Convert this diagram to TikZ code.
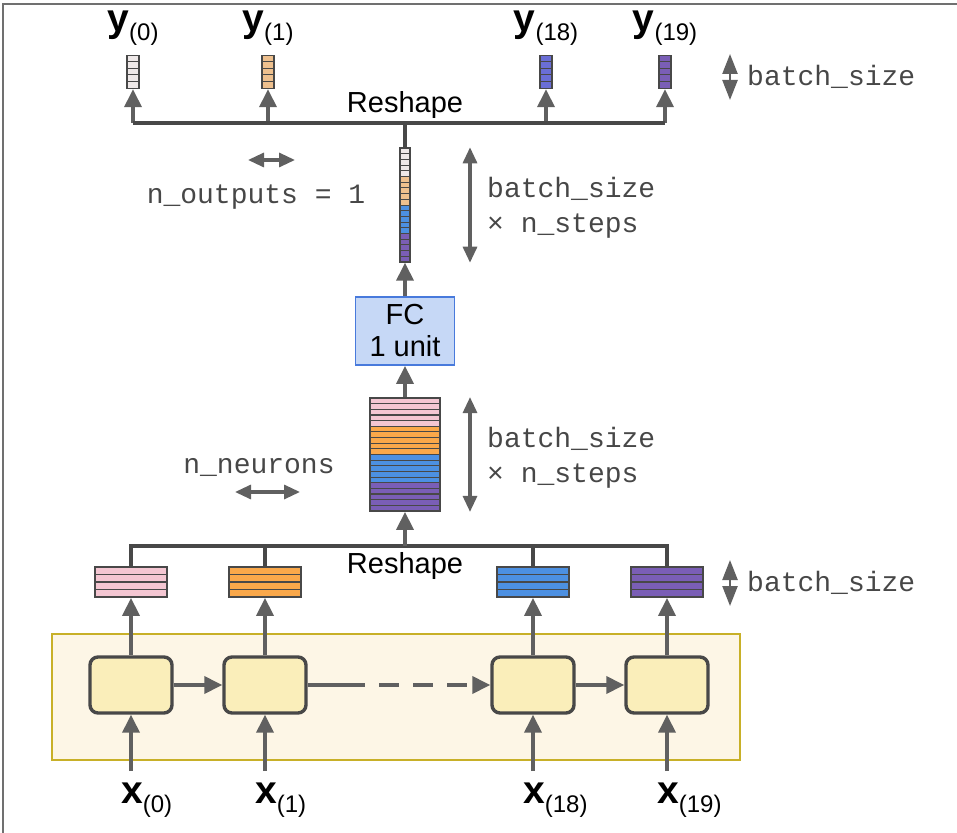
\documentclass[tikz,border=0pt]{standalone}
\usepackage{fontspec}
\setsansfont{Liberation Sans}
\setmonofont{Liberation Mono}
\usetikzlibrary{arrows.meta}
\definecolor{rnnline}{RGB}{72,72,72}
\definecolor{rnnarrow}{RGB}{96,96,96}
\definecolor{rnnframe}{RGB}{112,112,112}
\definecolor{vpink}{RGB}{244,198,210}
\definecolor{vorange}{RGB}{250,168,74}
\definecolor{vblue}{RGB}{76,144,226}
\definecolor{vpurple}{RGB}{122,94,182}
\definecolor{vpale}{RGB}{238,232,232}
\definecolor{vtan}{RGB}{238,192,142}
\definecolor{vindigo}{RGB}{106,110,214}
\definecolor{fcfill}{RGB}{198,216,246}
\definecolor{fcdraw}{RGB}{72,122,220}
\definecolor{cellfill}{RGB}{250,238,186}
\definecolor{layerfill}{RGB}{253,246,230}
\definecolor{layerdraw}{RGB}{200,176,40}
\newcommand{\seqlbl}[2]{\textbf{\fontsize{19.5}{19.5}\selectfont #1}\raisebox{-4.5pt}{\fontsize{12}{12}\selectfont(#2)}}

\begin{document}
\begin{tikzpicture}[x=0.5pt,y=-0.5pt,line width=1.2pt,
  wire/.style={draw=rnnline,line width=1.6pt},
  arr/.style={draw=rnnarrow,line width=1.8pt,-{Triangle[length=9pt,width=8.5pt]}},
  dbl/.style={draw=rnnarrow,line width=1.6pt,{Triangle[length=8pt,width=7pt]}-{Triangle[length=8pt,width=7pt]}},
  dblsmall/.style={draw=rnnarrow,line width=1.2pt,{Triangle[length=10pt,width=7.5pt]}-{Triangle[length=10pt,width=7.5pt]}},
  vec/.style={draw=rnnline,line width=0.7pt,minimum width=6pt,minimum height=16.5pt,inner sep=0pt},
  mat/.style={draw=rnnline,line width=0.9pt,minimum width=36pt,minimum height=15pt,inner sep=0pt},
  rowrule/.style={rnnline,line width=0.6pt},
  cell/.style={draw=rnnline,line width=1.7pt,fill=cellfill,rounded corners=4pt,minimum width=41pt,minimum height=28pt},
  seq/.style={font=\sffamily,inner sep=0pt},
  code/.style={font=\ttfamily\fontsize{14}{17.5}\selectfont,text=black!72,inner sep=0pt,align=left},
  rs/.style={font=\sffamily\fontsize{14.5}{16}\selectfont,inner sep=0pt}]
  \useasboundingbox (0,0) rectangle (957,833);
  \draw[rnnframe,line width=1pt] (3,833) -- (3,4) -- (957,4);

  % unrolled RNN layer
  \node[draw=layerdraw,fill=layerfill,line width=0.8pt,minimum width=344pt,minimum height=63pt,inner sep=0pt] (layer) at (396,697) {};
  \foreach \n/\x in {0/131,1/265,18/533,19/667} {
    \node[cell] (c\n) at (\x,685) {};
    \node[seq,anchor=base west] (x\n) at (\x-11,803) {\seqlbl{x}{\n}};
    \draw[arr,shorten <=5pt] (c\n.south |- x\n.north) -- (c\n.south);
  }
  \coordinate (dash) at (345,685);
  \draw[arr] (c0) -- (c1);
  \draw[wire,line width=1.8pt,draw=rnnarrow] (c1.east) -- (dash);
  \draw[arr,dash pattern=on 10pt off 7pt] (dash) -- (c18.west);
  \draw[arr] (c18) -- (c19);

  % outputs per time step
  \foreach \n/\x/\c in {0/131/vpink,1/265/vorange,18/533/vblue,19/667/vpurple} {
    \node[mat,fill=\c] (m\n) at (\x,582) {};
    \foreach \k in {1,2,3} \draw[rowrule] (\x-36,567+\k*7.5) -- (\x+36,567+\k*7.5);
    \draw[arr] (c\n) -- (m\n);
  }
  \node[code,anchor=west] (bsz2) at (746,583) {batch\_size};
  \draw[dblsmall] ([xshift=-8pt,yshift=11.5pt]bsz2.west) -- ([xshift=-8pt,yshift=-11.5pt]bsz2.west);

  \coordinate (rbot) at (405,546);
  \draw[wire] (m0.north) |- (rbot) -| (m19.north);
  \draw[wire] (m1.north) -- (m1.north |- rbot);
  \draw[wire] (m18.north) -- (m18.north |- rbot);
  \node[rs,anchor=base] (reshape2) at (405,573) {Reshape};

  % stacked outputs
  \foreach \c [count=\g from 0] in {vpink,vorange,vblue,vpurple}
    \fill[\c] (370,398+\g*28.25) rectangle (440,426.25+\g*28.25);
  \foreach \k in {1,...,19} \draw[rowrule] (370,398+\k*5.65) -- (440,398+\k*5.65);
  \node[mat,minimum width=35pt,minimum height=56.5pt] (bm) at (405,454.5) {};
  \draw[arr] (rbot) -- (bm.south);
  \draw[dbl] ([xshift=32.5pt]bm.north) -- ([xshift=32.5pt]bm.south);
  \node[code,anchor=west] (bst2) at (486,458) {batch\_size\\× n\_steps};
  \node[code] (nneu) at (259,467) {n\_neurons};
  \draw[dbl] ([xshift=-12pt,yshift=-12.5pt]nneu.center) -- ([xshift=20.5pt,yshift=-12.5pt]nneu.center);

  % dense layer
  \node[draw=fcdraw,fill=fcfill,line width=0.9pt,minimum width=49.5pt,minimum height=34pt,inner sep=0pt,
        align=center,font=\sffamily\fontsize{14.5}{16}\selectfont] (fc) at (405,331) {FC\\1 unit};
  \draw[arr] (bm) -- (fc);

  \foreach \c [count=\g from 0] in {vpale,vtan,vblue,vpurple}
    \foreach \k in {0,...,4}
      \fill[\c] (400,148+\g*28.5+\k*5.7) rectangle (410,153.7+\g*28.5+\k*5.7);
  \foreach \k in {1,...,19} \draw[rowrule,line width=0.4pt] (400,148+\k*5.7) -- (410,148+\k*5.7);
  \node[vec,minimum width=5pt,minimum height=57pt] (lv) at (405,205) {};
  \draw[arr] (fc) -- (lv);
  \draw[dbl] ([xshift=32.5pt]lv.north) -- ([xshift=32.5pt]lv.south);
  \node[code,anchor=west] (bst1) at (486,207.5) {batch\_size\\× n\_steps};
  \node[code] (nout) at (256,197) {n\_outputs = 1};
  \draw[dbl] ([xshift=-4pt,yshift=18.5pt]nout.center) -- ([xshift=19.5pt,yshift=18.5pt]nout.center);

  % reshaped outputs
  \coordinate (rtop) at (405,123);
  \foreach \n/\x/\c in {0/133/vpale,1/268/vtan,18/546/vindigo,19/665/vpurple} {
    \node[vec,fill=\c] (y\n) at (\x,72) {};
    \foreach \k in {1,...,4} \draw[rowrule,line width=0.4pt] (\x-6,55+\k*6.6) -- (\x+6,55+\k*6.6);
    \node[seq,anchor=base] (ly\n) at (\x,32) {\seqlbl{y}{\n}};
    \draw[arr] (y\n.south |- rtop) -- (y\n.south);
  }
  \draw[wire] (y0.south |- rtop) -- (y19.south |- rtop);
  \draw[wire] (rtop) -- (lv.north);
  \node[rs,anchor=base] (reshape1) at (405,113) {Reshape};
  \node[code,anchor=west] (bsz1) at (746,77) {batch\_size};
  \draw[dblsmall] ([xshift=-8pt,yshift=11.5pt]bsz1.west) -- ([xshift=-8pt,yshift=-11.5pt]bsz1.west);
\end{tikzpicture}
\end{document}
